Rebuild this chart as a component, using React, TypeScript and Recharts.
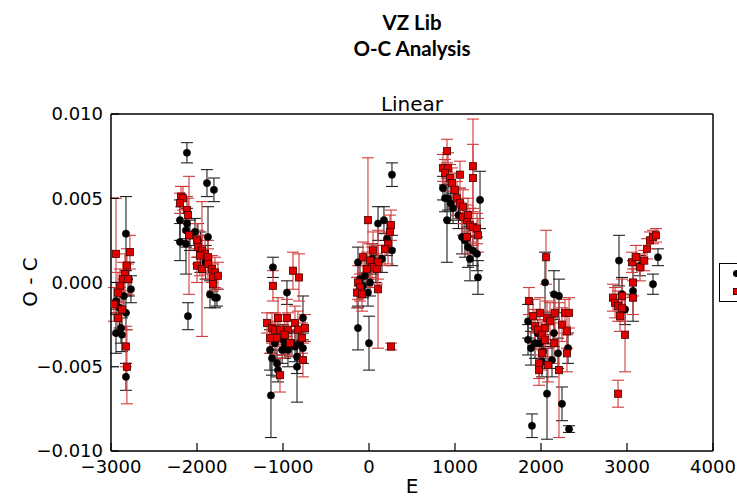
import React from "react";
import { ScatterChart, Scatter, XAxis, YAxis, ErrorBar } from "recharts";

// black circles: E, O-C, error
const blackE = [
  -2826, -2791, -2768, -2942, -2826, -2942, -2884, -2873, -2826, -2900, -2850,
  -2117, -1884, -1803, -2198, -2117, -2128, -2198, -2128, -2024, -1872, -1989, -2082, -1849, -1791, -1768, -2105, -1960, -1900,
  -1117, -954, -768, -1151, -1128, -1070, -1058, -1140, -1000, -942, -837, -837, -802, -768, -977, -896, -1093, -1010, -860,
  267, 174, 105, 209, 267, 35, -128, 151, -47, -105, 12, -128, -12, -128, 0, 80, -70,
  860, 884, 919, 907, 977, 1291, 1081, 1116, 1151, 1209, 1256, 1174, 1267, 1040, 950,
  2047, 2151, 2209, 1849, 1849, 1884, 1930, 1988, 2023, 2012, 2128, 2198, 2314, 2070, 2244, 1895, 2326, 2151, 1960,
  2942, 2977, 3070, 3302, 2907, 3360, 3150,
];
const blackOC = [
  0.0029, 0.0002, -0.0004, -0.0011, -0.0018, -0.003, -0.0027, -0.0031, -0.0056, -0.0015, -0.0008,
  0.0077, 0.0059, 0.0055, 0.0037, 0.0035, 0.0031, 0.0024, 0.0023, 0.003, 0.0027, 0.0025, 0.0028, -0.0007, -0.0009, -0.0009, -0.002, 0.0018, 0.0012,
  0.0009, -0.0006, -0.0021, -0.004, -0.0045, -0.0048, -0.0052, -0.0067, -0.0034, -0.004, -0.0044, -0.005, -0.0036, -0.0039, -0.0037, -0.0036, -0.0036, -0.004, -0.0038,
  0.0064, 0.0037, 0.0035, 0.0026, 0.0019, 0.0014, 0.0012, 0.0014, 0.0004, 0.0002, 0.0, -0.0006, -0.0006, -0.0027, -0.0036, 0.0008, -0.0002,
  0.0056, 0.005, 0.005, 0.0037, 0.0044, 0.0049, 0.0027, 0.0025, 0.0021, 0.0019, 0.0017, 0.0014, 0.0003, 0.004, 0.0047,
  0.0, -0.0007, -0.0008, -0.0023, -0.0034, -0.0039, -0.0036, -0.0036, -0.0041, -0.0047, -0.0046, -0.0042, -0.0039, -0.0066, -0.0072, -0.0085, -0.0087, -0.003, -0.003,
  -0.0007, -0.0016, -0.0005, -0.0001, 0.0013, 0.0015, 0.001,
];
const blackErr = [
  0.0022, 0.001, 0.0008, 0.0008, 0.001, 0.0012, 0.0009, 0.001, 0.0008, 0.0012, 0.001,
  0.0006, 0.0008, 0.0007, 0.0012, 0.0009, 0.001, 0.0011, 0.0018, 0.0008, 0.0018, 0.001, 0.0009, 0.0008, 0.0006, 0.0005, 0.0008, 0.0012, 0.001,
  0.0006, 0.0007, 0.0013, 0.0012, 0.001, 0.0008, 0.0007, 0.0025, 0.0009, 0.001, 0.001, 0.0021, 0.001, 0.0009, 0.0008, 0.0008, 0.001, 0.0008, 0.0009,
  0.0007, 0.0008, 0.001, 0.001, 0.0009, 0.0009, 0.0009, 0.0008, 0.0009, 0.0008, 0.0008, 0.0009, 0.0008, 0.0013, 0.0016, 0.0008, 0.0007,
  0.0007, 0.0008, 0.0007, 0.0025, 0.0009, 0.0017, 0.001, 0.001, 0.0012, 0.0009, 0.001, 0.0013, 0.001, 0.0008, 0.001,
  0.0018, 0.0014, 0.001, 0.001, 0.0009, 0.001, 0.0009, 0.0009, 0.001, 0.0009, 0.001, 0.0009, 0.0009, 0.0027, 0.001, 0.0007, 0.0002, 0.0008, 0.0008,
  0.001, 0.0009, 0.0018, 0.0006, 0.0015, 0.0005, 0.0006,
];

// red squares: E, O-C, error
const redE = [
  -2942, -2780, -2815, -2838, -2861, -2803, -2896, -2919, -2966, -2873, -2919, -2826, -2815,
  -2186, -2163, -2198, -2117, -2105, -2093, -2000, -1989, -1942, -1907, -1966, -1872, -2000, -1942, -1872, -1826, -1791, -1814, -1814, -1756,
  -1117, -884, -814, -1186, -1128, -1058, -954, -861, -744, -1093, -1035, -942, -826, -1151, -1070, -919, -779, -768, -1035, -980,
  -12, 256, 244, 221, 186, 47, -70, 12, 105, 35, -23, 93, -128, -105, -140, -81, 105, 256,
  907, 860, 919, 1209, 1058, 884, 942, 965, 1000, 1209, 1023, 1058, 1093, 1093, 1140, 1151, 1174, 1209, 1256, 1267, 1140,
  1860, 1907, 1988, 2070, 2163, 2279, 2326, 1930, 1965, 2047, 2105, 2244, 2302, 2012, 2047, 2151, 2012, 1977, 1977, 2081, 2209, 2302, 2058,
  2837, 2861, 2942, 2896, 2942, 2919, 2977, 2896, 3070, 3070, 3058, 3105, 3151, 3232, 3267, 3302, 3337, 3200,
];
const redOC = [
  0.0017, 0.0018, 0.001, 0.0005, 0.0002, 0.0002, -0.0002, -0.0006, -0.0013, -0.0016, -0.0021, -0.0038, -0.005,
  0.0051, 0.005, 0.0047, 0.0043, 0.004, 0.0028, 0.0025, 0.0021, 0.0019, 0.0017, 0.0016, 0.0015, 0.001, 0.0008, 0.0011, 0.0008, 0.0006, 0.0003, -0.0001, 0.0004,
  -0.0002, 0.0007, 0.0003, -0.0024, -0.0027, -0.0021, -0.0021, -0.0024, -0.0027, -0.0028, -0.0028, -0.0028, -0.0028, -0.0033, -0.0033, -0.0036, -0.0033, -0.0046, -0.0055, -0.0031,
  0.0037, 0.0034, 0.003, 0.0023, 0.002, 0.0019, 0.0015, 0.0013, 0.0012, 0.0009, 0.0008, 0.0008, 0.0, -0.0003, -0.0006, -0.0007, -0.0004, -0.0038,
  0.0078, 0.0068, 0.0068, 0.0069, 0.0064, 0.0065, 0.0062, 0.0059, 0.0055, 0.0062, 0.005, 0.0047, 0.0045, 0.0039, 0.0037, 0.004, 0.0034, 0.0033, 0.0032, 0.0028, 0.0027,
  -0.0011, -0.002, -0.0018, -0.0021, -0.0018, -0.0018, -0.0018, -0.0026, -0.0028, -0.0027, -0.0023, -0.0025, -0.0029, -0.0031, -0.0034, -0.0036, -0.0042, -0.0048, -0.0052, -0.0049, -0.0052, -0.0042, 0.0015,
  -0.0009, -0.0012, -0.0008, -0.0014, -0.0015, -0.002, -0.0031, -0.0066, -0.0009, 0.0, 0.0012, 0.0015, 0.0009, 0.002, 0.0025, 0.0027, 0.0028, 0.0013,
];
const redErr = [
  0.0033, 0.001, 0.001, 0.0012, 0.001, 0.0009, 0.001, 0.0012, 0.001, 0.0011, 0.001, 0.0012, 0.0022,
  0.0006, 0.0007, 0.0006, 0.0008, 0.001, 0.0035, 0.001, 0.001, 0.0009, 0.001, 0.0012, 0.001, 0.001, 0.004, 0.0009, 0.0008, 0.0009, 0.0008, 0.0008, 0.0008,
  0.0009, 0.0011, 0.0014, 0.0006, 0.0009, 0.0012, 0.0011, 0.001, 0.0008, 0.001, 0.0009, 0.001, 0.0011, 0.0009, 0.001, 0.0008, 0.0009, 0.001, 0.001, 0.0012,
  0.0037, 0.0009, 0.001, 0.0012, 0.001, 0.0011, 0.0009, 0.001, 0.001, 0.0012, 0.001, 0.0009, 0.001, 0.0008, 0.0009, 0.001, 0.0035, 0.0002,
  0.0007, 0.0008, 0.0009, 0.0028, 0.0008, 0.0008, 0.0008, 0.0009, 0.001, 0.002, 0.001, 0.0009, 0.001, 0.0011, 0.0009, 0.001, 0.001, 0.0011, 0.0009, 0.001, 0.001,
  0.0008, 0.001, 0.0009, 0.001, 0.0012, 0.0008, 0.0009, 0.001, 0.0009, 0.001, 0.0011, 0.001, 0.001, 0.0009, 0.001, 0.0012, 0.001, 0.0009, 0.0009, 0.001, 0.004, 0.0011, 0.0016,
  0.0008, 0.0009, 0.001, 0.0009, 0.0008, 0.0009, 0.0022, 0.0008, 0.001, 0.0008, 0.0006, 0.0007, 0.0008, 0.0006, 0.0005, 0.0004, 0.0004, 0.0006,
];

const xTicks = [-3000, -2000, -1000, 0, 1000, 2000, 3000, 4000];
const yTicks = [-0.01, -0.005, 0, 0.005, 0.01];

const toRows = (e, oc, err) => e.map((v, i) => ({ E: v, oc: oc[i], err: err[i] }));
const blackData = toRows(blackE, blackOC, blackErr);
const redData = toRows(redE, redOC, redErr);

const minus = (s: string) => s.replace("-", "\u2212");
const fmtX = (v: number) => minus(String(v));
const fmtY = (v: number) => minus(v.toFixed(3));

const tickFont = { fontFamily: "DejaVu Sans", fontSize: 18, fill: "#000" };
const axisLine = { stroke: "#000", strokeWidth: 1.5 };
const tickLine = { stroke: "#000", strokeWidth: 1.2 };

const Dot = (p) => <circle cx={p.cx} cy={p.cy} r={3.6} fill="#000" stroke="#000" strokeWidth={0.6} />;
const Square = (p) => (
  <rect x={p.cx - 3.6} y={p.cy - 3.6} width={7.2} height={7.2} fill="#e00000" stroke="#4a0000" strokeWidth={0.8} />
);

export default function App() {
  return (
    <div style={{ position: "relative", width: 737, height: 499, overflow: "hidden", background: "#fff" }}>
      <style>{"body{margin:0}"}</style>
      <div style={{ position: "absolute", left: 312, width: 200, top: 9, textAlign: "center", fontFamily: "Lato", fontWeight: 700, fontSize: 20.5, lineHeight: "26px", color: "#000" }}>
        VZ Lib
        <br />
        O-C Analysis
      </div>
      <div style={{ position: "absolute", left: 312, width: 200, top: 92, textAlign: "center", fontFamily: "DejaVu Sans", fontSize: 20, lineHeight: "24px", color: "#000" }}>
        Linear
      </div>
      <div style={{ position: "absolute", left: 30, top: 282, transform: "translate(-50%, -50%) rotate(-90deg)", fontFamily: "DejaVu Sans", fontSize: 20, whiteSpace: "nowrap", color: "#000" }}>
        O - C
      </div>
      <div style={{ position: "absolute", left: 412, top: 486, transform: "translate(-50%, -50%)", fontFamily: "DejaVu Sans", fontSize: 20, lineHeight: "22px", color: "#000" }}>
        E
      </div>
      <div style={{ position: "absolute", left: 719, top: 263, width: 120, height: 39, border: "1px solid #000", boxSizing: "border-box", background: "#fff" }}>
        <div style={{ position: "absolute", left: 13, top: 6, width: 7, height: 7, borderRadius: "50%", background: "#000" }} />
        <div style={{ position: "absolute", left: 13, top: 24, width: 7, height: 7, background: "#e00000", border: "1px solid #4a0000", boxSizing: "border-box" }} />
      </div>
      <ScatterChart width={737} height={499} margin={{ top: 113, right: 23, bottom: 0, left: 0 }}>
        <XAxis
          xAxisId="bottom"
          type="number"
          dataKey="E"
          domain={[-3000, 4000]}
          ticks={xTicks}
          tickFormatter={fmtX}
          height={48}
          tickSize={-8}
          tickMargin={17}
          tick={tickFont}
          axisLine={axisLine}
          tickLine={tickLine}
          allowDataOverflow
        />
        <XAxis
          xAxisId="top"
          orientation="top"
          type="number"
          domain={[-3000, 4000]}
          ticks={xTicks}
          height={1}
          tickSize={-8}
          tick={false}
          axisLine={axisLine}
          tickLine={tickLine}
        />
        <YAxis
          yAxisId="left"
          type="number"
          dataKey="oc"
          domain={[-0.01, 0.01]}
          ticks={yTicks}
          tickFormatter={fmtY}
          width={111}
          tickSize={-8}
          tickMargin={16}
          tick={tickFont}
          axisLine={axisLine}
          tickLine={tickLine}
          allowDataOverflow
        />
        <YAxis
          yAxisId="right"
          orientation="right"
          type="number"
          domain={[-0.01, 0.01]}
          ticks={yTicks}
          width={1}
          tickSize={-8}
          tick={false}
          axisLine={axisLine}
          tickLine={tickLine}
        />
        <Scatter data={blackData} xAxisId="bottom" yAxisId="left" shape={Dot} isAnimationActive={false}>
          <ErrorBar dataKey="err" direction="y" width={6} stroke="#222" strokeWidth={1.1} />
        </Scatter>
        <Scatter data={redData} xAxisId="bottom" yAxisId="left" shape={Square} isAnimationActive={false}>
          <ErrorBar dataKey="err" direction="y" width={6} stroke="#d23a3a" strokeWidth={1.1} />
        </Scatter>
      </ScatterChart>
    </div>
  );
}
